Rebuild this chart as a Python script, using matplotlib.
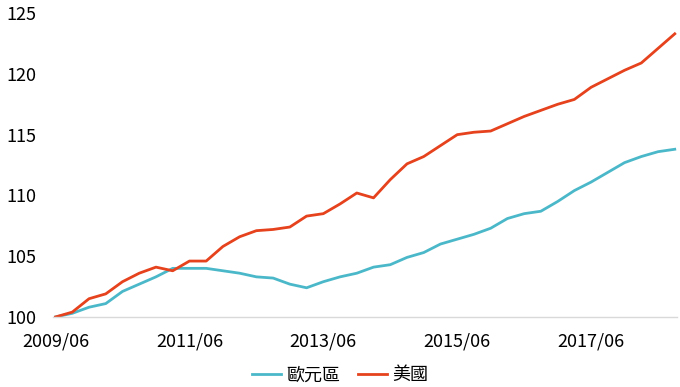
import matplotlib
matplotlib.use("Agg")
import matplotlib.pyplot as plt

plt.rcParams['font.family'] = ['Noto Sans CJK TC', 'DejaVu Sans']

# quarterly index, 2009/06 = 100
quarters = list(range(38))
tickPos = [0, 8, 16, 24, 32]
tickLabels = ["2009/06", "2011/06", "2013/06", "2015/06", "2017/06"]

euro = [100.0, 100.3, 100.8, 101.1, 102.1, 102.7, 103.3, 104.0, 104.0, 104.0,
        103.8, 103.6, 103.3, 103.2, 102.7, 102.4, 102.9, 103.3, 103.6, 104.1,
        104.3, 104.9, 105.3, 106.0, 106.4, 106.8, 107.3, 108.1, 108.5, 108.7,
        109.5, 110.4, 111.1, 111.9, 112.7, 113.2, 113.6, 113.8]
usa = [100.0, 100.4, 101.5, 101.9, 102.9, 103.6, 104.1, 103.8, 104.6, 104.6,
       105.8, 106.6, 107.1, 107.2, 107.4, 108.3, 108.5, 109.3, 110.2, 109.8,
       111.3, 112.6, 113.2, 114.1, 115.0, 115.2, 115.3, 115.9, 116.5, 117.0,
       117.5, 117.9, 118.9, 119.6, 120.3, 120.9, 122.1, 123.3]

fontSize = 13

fig = plt.figure(figsize=(6.8, 3.87), dpi=100)
ax = fig.add_axes([0.078, 0.181, 0.918, 0.785])

ax.plot(quarters, euro, color="#4bb8c9", linewidth=2.0, label="歐元區")
ax.plot(quarters, usa, color="#e5421d", linewidth=2.0, label="美國")

ax.set_xlim(-0.15, 37.15)
ax.set_ylim(100, 125)
ax.set_yticks([100, 105, 110, 115, 120, 125])
ax.set_xticks(tickPos)
ax.set_xticklabels(tickLabels)

for s in ["top", "right", "left"]:
    ax.spines[s].set_visible(False)
ax.spines["bottom"].set_color("#d9d9d9")
ax.spines["bottom"].set_linewidth(1.0)
ax.tick_params(axis="both", length=0, labelsize=fontSize)
ax.tick_params(axis="y", pad=12)
ax.tick_params(axis="x", pad=11)

fig.legend(loc="lower center", ncol=2, frameon=False, fontsize=fontSize,
           bbox_to_anchor=(0.5, -0.035), handlelength=1.6, handletextpad=0.3,
           columnspacing=1.0)

fig.savefig("out.png", dpi=100)
